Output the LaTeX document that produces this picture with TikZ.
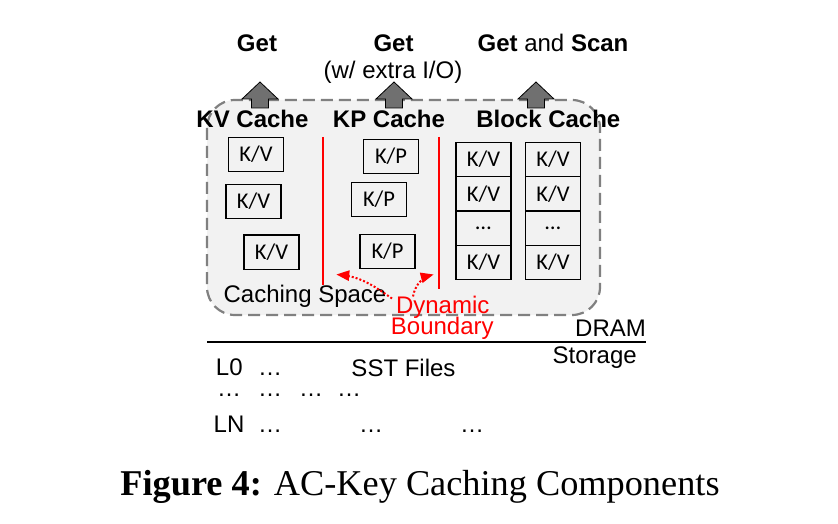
\documentclass[tikz,border=0pt]{standalone}
\usepackage{fontspec}
\setmainfont{Liberation Sans}
\newfontfamily\capfont{Liberation Serif}
\newfontfamily\cellfont{Carlito}
\usetikzlibrary{arrows, calc}
\definecolor{spacegray}{HTML}{F2F2F2}
\definecolor{dashgray}{HTML}{808080}
\definecolor{arrowgray}{HTML}{707070}

\begin{document}
\begin{tikzpicture}[x=1pt, y=1pt, every text node part/.style={align=center}]

\tikzstyle{lbl}=[inner sep=0pt, anchor=base, font=\fontsize{24}{24}\selectfont]
\tikzstyle{head}=[lbl, font=\fontsize{24}{24}\selectfont\bfseries]
\tikzstyle{red lbl}=[lbl, text=red]
\tikzstyle{cell}=[draw, line width=1.3pt, minimum width=55pt, minimum height=34.3pt, inner sep=0pt, font=\cellfont\fontsize{22.5}{22.5}\selectfont]
\tikzstyle{space}=[draw=dashgray, fill=spacegray, line width=2.2pt, dash pattern=on 12pt off 6pt, rounded corners=28pt]
\tikzstyle{fat}=[draw, line width=0.8pt, fill=arrowgray]
\tikzstyle{wall}=[draw=red, line width=1.4pt]
\tikzstyle{darr}=[draw=red, line width=2pt, dotted, -triangle 45]

\useasboundingbox (0, 0) rectangle (838, 523);

% caching space
\path [space] (207, 423) rectangle (600, 208);
\foreach \x in {260, 394, 536}
  \path [fat] (\x-8.5, 415) -- (\x-8.5, 424) -- (\x-18, 424) -- (\x, 441)
    -- (\x+18, 424) -- (\x+8.5, 424) -- (\x+8.5, 415) -- cycle;

\node (getkv)  [head] at (257, 471) {Get};
\node (getkp)  [head] at (393.5, 471) {Get};
\node (getblk) [lbl]  at (553, 471) {\textbf{Get} and \textbf{Scan}};
\node (extra)  [lbl]  at (393, 444) {(w/ extra I/O)};

\node (kvh)  [head] at (252.5, 395.7) {KV Cache};
\node (kph)  [head] at (389, 395.7) {KP Cache};
\node (blkh) [head] at (548.3, 395.7) {Block Cache};

\node (kv1) [cell] at (256, 368.5) {K/V};
\node (kv2) [cell] at (253.5, 321.5) {K/V};
\node (kv3) [cell] at (271.5, 271) {K/V};
\node (kp1) [cell] at (391, 366.5) {K/P};
\node (kp2) [cell] at (379, 323.5) {K/P};
\node (kp3) [cell] at (387.5, 271.5) {K/P};

\node (b11) [cell] at (483.5, 363.5) {K/V};
\node (b12) [cell] at (483.5, 329.2) {K/V};
\node (b13) [cell] at (483.5, 294.9) {…};
\node (b14) [cell] at (483.5, 260.6) {K/V};
\node (b21) [cell] at (553, 363.5) {K/V};
\node (b22) [cell] at (553, 329.2) {K/V};
\node (b23) [cell] at (553, 294.9) {…};
\node (b24) [cell] at (553, 260.6) {K/V};

\path [wall] (323, 386) -- (323, 238);
\path [wall] (439, 386) -- (439, 234);

\node (space) [lbl] at (305, 220.3) {Caching Space};
\node (dyn) [red lbl] at (442.7, 209.7) {Dynamic};
\node (bnd) [red lbl] at (442.3, 189) {Boundary};

\coordinate (fromL) at (392, 224.5);
\coordinate (fromR) at (413, 226.5);
\coordinate (tipL)  at (336.5, 248.5);
\coordinate (tipR)  at (433.5, 248.5);
\path [darr] (fromL) to [out=145, in=-5] (tipL);
\path [darr] (fromR) to [out=80, in=195] (tipR);

% storage
\node (dram) [lbl] at (610.5, 186.3) {DRAM};
\draw [line width=2pt] (207, 181) -- (646, 181);
\node (stor) [lbl] at (594.7, 159.7) {Storage};

\node (l0)   [lbl] at (229.3, 148) {L0};
\node (l0d)  [lbl] at (270, 148) {…};
\node (sst)  [lbl] at (403.5, 147) {SST Files};
\node (md1)  [lbl] at (229, 127) {…};
\node (md2)  [lbl] at (270, 127) {…};
\node (md3)  [lbl] at (311, 127) {…};
\node (md4)  [lbl] at (349, 127) {…};
\node (ln)   [lbl] at (229, 90.3) {LN};
\node (lnd1) [lbl] at (270, 90.3) {…};
\node (lnd2) [lbl] at (371, 90.3) {…};
\node (lnd3) [lbl] at (472, 90.3) {…};

\node (cap) [inner sep=0pt, anchor=base, font=\capfont\fontsize{36.3}{37}\selectfont] at (420, 28)
  {\textbf{Figure 4:} AC-Key Caching Components};
\end{tikzpicture}
\end{document}
